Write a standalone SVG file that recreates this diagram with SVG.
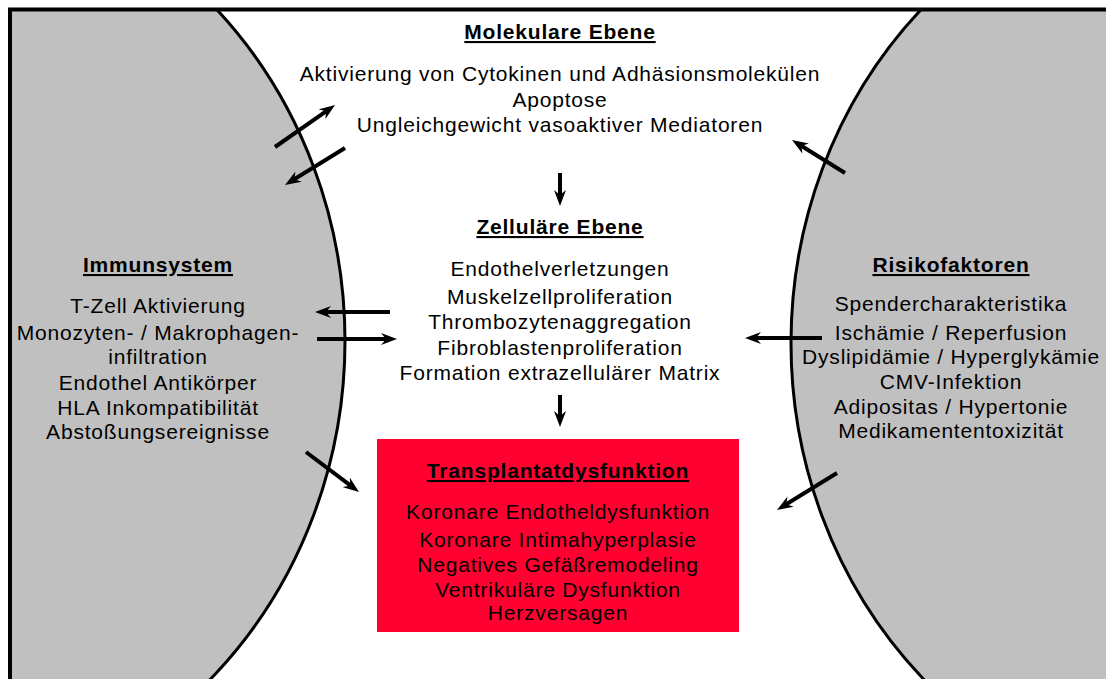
<svg xmlns="http://www.w3.org/2000/svg" width="1106" height="679" viewBox="0 0 1106 679">
<style>
.t{font-family:"Liberation Sans",Arial,sans-serif;font-size:21px;letter-spacing:0.8px;fill:#000;text-anchor:middle}
.h{font-weight:bold;text-decoration:underline}
.ar{stroke:#000;stroke-width:4;fill:none;marker-end:url(#ah)}
.ell{fill:#c0c0c0;stroke:#000;stroke-width:3}
</style>
<defs>
<marker id="ah" viewBox="0 0 16 12" refX="8" refY="6" markerWidth="16" markerHeight="12" markerUnits="userSpaceOnUse" orient="auto">
<path d="M0,0 L16,6 L0,12 L5,6 z" fill="#000"/>
</marker>
<clipPath id="fr"><rect x="10" y="10" width="1100" height="680"/></clipPath>
</defs>
<rect x="0" y="0" width="1106" height="679" fill="#fff"/>
<g id="immunsystem">
<ellipse class="ell" cx="-100" cy="341" rx="445" ry="472" clip-path="url(#fr)"/>
<text class="t h" x="158" y="272">Immunsystem</text>
<text class="t" x="158" y="313">T-Zell Aktivierung</text>
<text class="t" x="158" y="340">Monozyten- / Makrophagen-</text>
<text class="t" x="158" y="364">infiltration</text>
<text class="t" x="158" y="390">Endothel Antikörper</text>
<text class="t" x="158" y="415">HLA Inkompatibilität</text>
<text class="t" x="158" y="439">Abstoßungsereignisse</text>
</g>
<g id="risikofaktoren">
<ellipse class="ell" cx="1236" cy="343" rx="445" ry="472" clip-path="url(#fr)"/>
<text class="t h" x="951" y="272">Risikofaktoren</text>
<text class="t" x="951" y="311">Spendercharakteristika</text>
<text class="t" x="951" y="340">Ischämie / Reperfusion</text>
<text class="t" x="951" y="364">Dyslipidämie / Hyperglykämie</text>
<text class="t" x="951" y="389">CMV-Infektion</text>
<text class="t" x="951" y="414">Adipositas / Hypertonie</text>
<text class="t" x="951" y="438">Medikamententoxizität</text>
</g>
<rect x="10" y="9.5" width="1110" height="690" fill="none" stroke="#000" stroke-width="4"/>
<g id="molekulare-ebene">
<text class="t h" x="560" y="39">Molekulare Ebene</text>
<text class="t" x="560" y="81">Aktivierung von Cytokinen und Adhäsionsmolekülen</text>
<text class="t" x="560" y="107">Apoptose</text>
<text class="t" x="560" y="132">Ungleichgewicht vasoaktiver Mediatoren</text>
</g>
<g id="zellulaere-ebene">
<text class="t h" x="560" y="234">Zelluläre Ebene</text>
<text class="t" x="560" y="276">Endothelverletzungen</text>
<text class="t" x="560" y="304">Muskelzellproliferation</text>
<text class="t" x="560" y="329">Thrombozytenaggregation</text>
<text class="t" x="560" y="355">Fibroblastenproliferation</text>
<text class="t" x="560" y="380">Formation extrazellulärer Matrix</text>
</g>
<g id="transplantatdysfunktion">
<rect x="377" y="439" width="362" height="193" fill="#ff0030"/>
<text class="t h" x="558" y="478">Transplantatdysfunktion</text>
<text class="t" x="558" y="519">Koronare Endotheldysfunktion</text>
<text class="t" x="558" y="547">Koronare Intimahyperplasie</text>
<text class="t" x="558" y="572">Negatives Gefäßremodeling</text>
<text class="t" x="558" y="597">Ventrikuläre Dysfunktion</text>
<text class="t" x="558" y="620">Herzversagen</text>
</g>
<g id="connectors">
<line class="ar" x1="275" y1="147" x2="328.5" y2="109.6"/>
<line class="ar" x1="345" y1="148" x2="291.8" y2="180.8"/>
<line class="ar" x1="845" y1="173" x2="798.8" y2="144.3"/>
<line class="ar" x1="390" y1="312" x2="323" y2="312"/>
<line class="ar" x1="317" y1="339" x2="389" y2="339"/>
<line class="ar" x1="822" y1="338" x2="753" y2="338"/>
<line class="ar" x1="306" y1="452" x2="352.6" y2="487.2"/>
<line class="ar" x1="837" y1="473" x2="783.8" y2="505.8"/>
<line class="ar" x1="560" y1="173" x2="560" y2="198"/>
<line class="ar" x1="560" y1="395" x2="560" y2="419"/>
</g>
</svg>
